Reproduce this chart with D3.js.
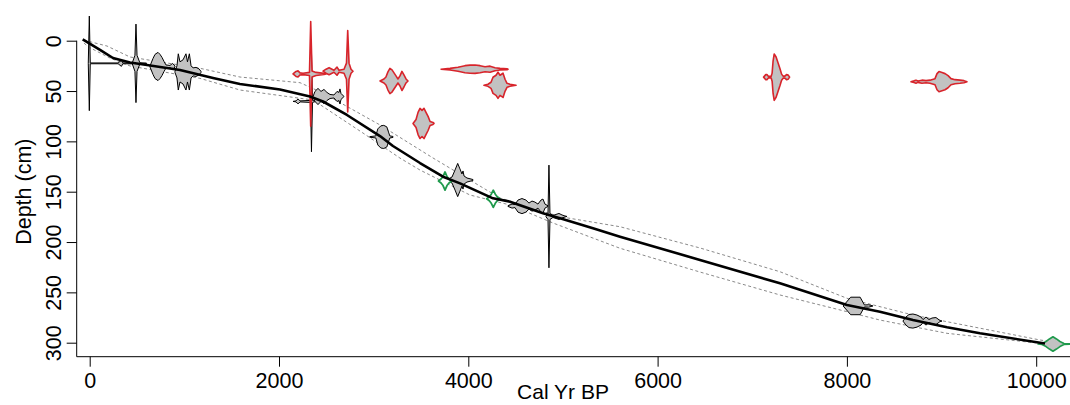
<!DOCTYPE html>
<html>
<head>
<meta charset="utf-8">
<script src="https://cdn.jsdelivr.net/npm/d3@7"></script>
<style>
  html, body { margin: 0; padding: 0; background: #fff; }
  svg { display: block; font-family: "Liberation Sans", Arial, Helvetica, sans-serif; }
</style>
</head>
<body>
<svg id="chart" width="1070" height="405"></svg>
<script>
// Age-depth model: mean curve and 95% envelope (cal yr BP vs depth in cm)
const curveAge   = [-74, 109, 246, 426, 605, 954, 1303, 1587, 2010, 2327, 2465, 2718, 3067, 3204, 3490, 3733, 3913, 4261, 4441, 4789, 4969, 5317, 5603, 6448, 7293, 8001, 8349, 8698, 9058, 9406, 10093];
const curveDepth = [-1.4, 9.2, 17.2, 21.7, 24.1, 29.1, 37.1, 43.0, 48.5, 55.4, 60.4, 73.8, 94.7, 104.6, 121.5, 135.1, 141.7, 156.6, 159.9, 171.5, 176.4, 186.4, 194.7, 217.8, 241.0, 262.5, 269.2, 277.5, 284.7, 290.7, 300.8];

const upperAge   = [-60, 3, 183, 426, 1165, 1588, 2222, 2465, 3067, 3627, 4335, 4969, 5603, 6448, 7293, 8001, 8698, 10040, 10410];
const upperDepth = [-0.7, 1.0, 5.3, 16.2, 27.4, 36.1, 41.7, 52.0, 83.7, 116.5, 156.3, 174.8, 184.8, 205.9, 229.5, 255.9, 272.5, 297.3, 302.3];

const lowerAge   = [-60, -18, 214, 426, 1165, 1588, 2222, 2360, 2887, 3278, 3490, 4018, 4441, 4895, 5603, 6448, 7293, 8001, 8349, 9058, 10040];
const lowerDepth = [2.3, 6.0, 17.2, 25.1, 37.4, 49.0, 57.2, 58.9, 91.7, 116.6, 128.5, 153.3, 163.2, 181.1, 206.2, 229.8, 252.6, 269.2, 277.5, 290.7, 300.6];

// Calibrated dates: sample depth, status, and probability profile (age, half-height in cm)
const dateDepth = [22.5, 25.6, 31, 60.3, 55.4, 95.6, 138.4, 164.3, 174.6, 263.5, 278.5,
                   33, 30.3, 40, 82.2, 28.3, 44.3, 36.2, 40.7,
                   139.4, 157, 301.3];
const dateKind  = ["ok", "ok", "ok", "ok", "ok", "ok", "ok", "ok", "ok", "ok", "ok",
                   "out", "out", "out", "out", "out", "out", "out", "out",
                   "extra", "extra", "basal"];
const dateAges = [
  [-15, -4, 6, 300, 335, 350, 450, 478, 489, 500, 530, 600],
  [637, 669, 690, 722, 743, 764, 785, 806, 848, 875, 901],
  [901, 922, 936, 954, 986, 1017, 1033, 1053, 1071, 1092, 1123, 1155, 1176],
  [2148, 2180, 2201, 2222, 2333, 2343, 2354, 2390],
  [2360, 2380, 2412, 2444, 2475, 2507, 2539, 2581, 2613, 2634, 2644, 2655, 2687],
  [2959, 3023, 3044, 3076, 3107, 3139, 3160, 3171, 3204],
  [3775, 3828, 3860, 3888, 3912, 3933, 3944, 3955, 3986, 4049],
  [4419, 4462, 4493, 4525, 4567, 4609, 4641, 4673, 4704, 4736, 4768, 4789, 4810, 4842],
  [4821, 4842, 4852, 4863, 4894, 4926, 4958, 4990, 5021, 5043],
  [7960, 8040, 8140, 8185, 8230, 8265, 8275],
  [8592, 8624, 8656, 8698, 8740, 8783, 8804, 8836, 8867, 8899, 8941, 8984, 9005],
  [2148, 2180, 2201, 2222, 2254, 2322, 2335, 2349, 2391, 2433, 2475, 2497],
  [2465, 2497, 2529, 2560, 2581, 2613, 2634, 2687, 2713, 2726, 2740, 2761, 2782],
  [3067, 3109, 3130, 3151, 3172, 3194, 3215, 3236, 3257, 3278, 3299, 3320, 3342, 3363],
  [3416, 3448, 3469, 3490, 3511, 3532, 3553, 3575, 3596, 3627, 3638],
  [3712, 3807, 3891, 3965, 4018, 4071, 4124, 4177, 4230, 4282, 4335, 4409, 4420],
  [4166, 4208, 4240, 4261, 4293, 4314, 4335, 4367, 4388, 4409, 4441, 4504],
  [7120, 7143, 7155, 7170, 7200, 7210, 7220, 7232, 7252, 7273, 7294, 7310, 7326, 7345, 7362, 7380, 7395],
  [8677, 8709, 8730, 8751, 8793, 8836, 8878, 8931, 8952, 8973, 9005, 9037, 9069, 9100, 9143, 9195, 9237, 9269],
  [3685, 3712, 3733, 3754, 3775, 3796, 3823],
  [4195, 4222, 4243, 4264, 4285, 4306, 4333],
  [10019, 10061, 10104, 10140, 10177, 10214, 10251, 10293, 10356, 10420]
];
const dateHalf = [
  [0, 47, 0.4, 0.4, 3, 0.4, 0.5, 8, 39, 8, 0.6, 0.3],
  [0.5, 8, 12, 14, 12, 9, 5, 1.5, 1, 3, 0.5],
  [0.5, 6, 18, 10, 12, 18, 10, 18, 6, 4, 4.5, 3, 0.5],
  [0, 0.5, 2.5, 0.5, 1, 50, 1, 0],
  [0, 5, 8, 5, 7, 4, 2, 1.5, 5, 4, 7.5, 3, 0],
  [0.3, 1, 8, 11, 11.5, 10, 4, 1, 0.5],
  [0.3, 3, 10, 16.5, 11, 6, 9, 4, 2, 0.5],
  [0.3, 2, 1.5, 6, 7.5, 6, 3, 5, 4, 2, 6, 7, 2, 0.3],
  [0.3, 3, 51, 3, 1, 2, 3, 1.5, 0.5, 0],
  [0, 8.7, 8.7, 1, 1.2, 0.3, 0],
  [0, 4, 6.5, 7, 6, 4, 1.5, 4, 1.5, 3, 3.5, 0.5, 0],
  [0, 2.5, 3, 1, 0.7, 1.5, 52, 3, 1.5, 1, 0.5, 0],
  [0, 2, 3.5, 2, 1, 4, 1, 2, 8, 40.5, 8, 2, 0],
  [0, 2, 4, 9, 12.5, 11, 8, 5, 2, 5, 9.5, 6, 2, 0],
  [0, 4, 11, 15, 13, 15, 11, 7, 2, 1, 0],
  [0, 0.8, 2, 3.5, 4, 4.2, 3.5, 2.5, 3, 1.5, 0.8, 0.5, 0],
  [0, 1, 3, 8, 10, 13, 10, 12, 6, 2, 1, 0],
  [0, 2.5, 2.5, 0.8, 0.8, 4, 16, 23, 20, 14, 8, 3, 1, 1, 2.5, 2, 0],
  [0, 0.8, 1.5, 0.7, 1.5, 1, 1.5, 3, 8, 10, 9, 8, 6, 3, 2, 1.5, 1, 0],
  [0, 2, 4.5, 9, 4.5, 2, 0],
  [0, 2, 4.5, 8.5, 4.5, 2, 0],
  [0, 0.5, 2.5, 5, 7.2, 5, 2.5, 0.5, 0.3, 0]
];

const xTicks = [0, 2000, 4000, 6000, 8000, 10000];
const yTicks = [0, 50, 100, 150, 200, 250, 300];

const svg = d3.select("#chart");
const W = 1070, H = 405;
svg.append("rect").attr("width", W).attr("height", H).attr("fill", "#fff");

const x = d3.scaleLinear().domain([0, 10000]).range([89.7, 1036.2]);
const y = d3.scaleLinear().domain([0, 300]).range([40.7, 342.7]);
const axisX0 = 76.7, axisY0 = 356.7;

const line = d3.line().x(d => x(d[0])).y(d => y(d[1]));

// 95% envelope
[[upperAge, upperDepth], [lowerAge, lowerDepth]].forEach(([a, dpt]) => {
  svg.append("path")
    .attr("d", line(a.map((v, i) => [v, dpt[i]])))
    .attr("fill", "none")
    .attr("stroke", "#8a8a8a")
    .attr("stroke-width", 1)
    .attr("stroke-dasharray", "3,2.5");
});

// calibrated date distributions, mirrored about their depth
const styles = {
  ok:    { stroke: "#000", width: 1, fill: "#c2c2c2" },
  out:   { stroke: "#d8242b", width: 1.6, fill: "#c2c2c2" },
  extra: { stroke: "#1f9a4c", width: 1.8, fill: "#fff" },
  basal: { stroke: "#1f9a4c", width: 1.6, fill: "#c2c2c2" }
};
const order = ["ok", "out", "extra", "basal"];
order.forEach(kind => {
  dateDepth.forEach((dep, i) => {
    if (dateKind[i] !== kind) return;
    const ages = dateAges[i], half = dateHalf[i];
    const top = ages.map((a, j) => [a, dep - half[j]]);
    const bot = ages.map((a, j) => [a, dep + half[j]]).reverse();
    const st = styles[kind];
    svg.append("path")
      .attr("d", line(top.concat(bot)) + "Z")
      .attr("fill", st.fill)
      .attr("stroke", st.stroke)
      .attr("stroke-width", st.width)
      .attr("stroke-linejoin", "round");
  });
});

// mean age-depth curve
svg.append("path")
  .attr("d", line(curveAge.map((v, i) => [v, curveDepth[i]])))
  .attr("fill", "none")
  .attr("stroke", "#000")
  .attr("stroke-width", 2.6)
  .attr("stroke-linejoin", "round");

// frame lines
svg.append("line").attr("x1", axisX0).attr("x2", axisX0).attr("y1", y(0)).attr("y2", axisY0)
  .attr("stroke", "#000").attr("stroke-width", 1);
svg.append("line").attr("x1", axisX0).attr("x2", W).attr("y1", axisY0).attr("y2", axisY0)
  .attr("stroke", "#000").attr("stroke-width", 1);

// axes
const gx = svg.append("g").attr("transform", `translate(0,${axisY0})`)
  .call(d3.axisBottom(x).tickValues(xTicks).tickSize(10).tickFormat(d3.format("d")));
gx.select(".domain").remove();
gx.selectAll(".tick line").attr("stroke", "#000");
gx.selectAll(".tick text").attr("y", 31.6).attr("dy", 0)
  .attr("font-size", 21.5).attr("fill", "#000").attr("font-family", "Liberation Sans, Arial, sans-serif");

const gy = svg.append("g").attr("transform", `translate(${axisX0},0)`)
  .call(d3.axisLeft(y).tickValues(yTicks).tickSize(10).tickFormat(d3.format("d")));
gy.select(".domain").remove();
gy.selectAll(".tick line").attr("stroke", "#000");
gy.selectAll(".tick text")
  .attr("transform", "rotate(-90)")
  .attr("x", 0).attr("y", -16).attr("dy", 0)
  .attr("text-anchor", "middle")
  .attr("font-size", 21.5).attr("fill", "#000").attr("font-family", "Liberation Sans, Arial, sans-serif");

// axis titles
svg.append("text")
  .attr("x", 563).attr("y", 399)
  .attr("text-anchor", "middle")
  .attr("font-size", 21)
  .text("Cal Yr BP");
svg.append("text")
  .attr("transform", `translate(31,${(y(0) + y(300)) / 2}) rotate(-90)`)
  .attr("text-anchor", "middle")
  .attr("font-size", 21.5)
  .text("Depth (cm)");
</script>
</body>
</html>
